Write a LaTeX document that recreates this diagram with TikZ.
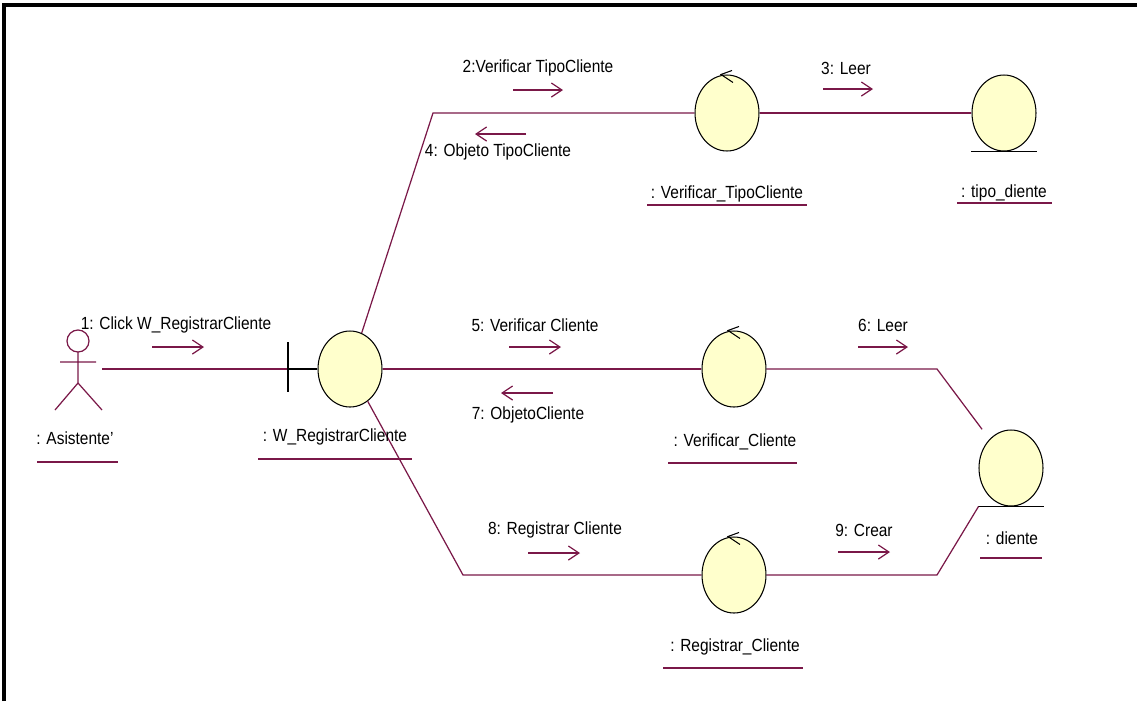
\documentclass[tikz,border=0pt]{standalone}
\usepackage{fontspec}
\setmainfont{Liberation Sans}[FakeStretch=0.88]
\usetikzlibrary{shapes.geometric,arrows.meta,calc}

\definecolor{lnk}{RGB}{122,24,72}
\definecolor{objfill}{RGB}{255,255,204}

\tikzset{
  obj/.style={ellipse,draw=black,fill=objfill,line width=0.6pt,minimum width=1.28cm,minimum height=1.52cm,inner sep=0pt},
  lbl/.style={font=\fontsize{10}{11}\selectfont,inner sep=1pt},
  link/.style={draw=lnk,line width=0.7pt},
  msg/.style={draw=lnk,line width=0.7pt,-{Straight Barb[length=6pt,width=8pt]}},
  uline/.style={draw=lnk,line width=0.8pt}
}
\newcommand{\ctrlmark}[1]{\draw[line width=0.6pt] ($(#1.north)+(6,8)$) -- ($(#1.north)+(-6,0)$) -- ($(#1.north)+(5,-4)$);}
\newcommand{\entbase}[1]{\draw[line width=0.8pt] (#1.south -| #1.west) -- (#1.south -| #1.east);}

\begin{document}
\begin{tikzpicture}[x=0.02cm,y=-0.02cm]
    \useasboundingbox (0,0) rectangle (1137,701);
    \draw[line width=2.6pt] (4,701) -- (4,5) -- (1137,5);

    \coordinate (actR) at (102,369);
    \coordinate (bar) at (288,369);
    \coordinate (c1) at (433,113);
    \coordinate (c2) at (937,369);
    \coordinate (c4) at (463,575);
    \coordinate (c5) at (937,575);

    \draw[link] (78,341) circle (11);
    \draw[link] (78,352) -- (78,383) -- (55,410) (78,383) -- (102,410) (60,362) -- (96,362);

    \node[obj] (W) at (350,369) {};
    \node[obj] (VTC) at (727,113) {};
    \node[obj] (TC) at (1004,113) {};
    \node[obj] (VC) at (734,369) {};
    \node[obj] (CL) at (1011,468) {};
    \node[obj] (RC) at (734,575) {};
    \ctrlmark{VTC}
    \ctrlmark{VC}
    \ctrlmark{RC}
    \entbase{TC}
    \entbase{CL}

    \draw[link] (actR) -- (bar);
    \draw[line width=0.7pt] (bar) -- (W);
    \draw[line width=0.8pt] (288,342) -- (288,392);
    \draw[link] (W) -- (c1) -- (VTC);
    \draw[link] (VTC) -- (TC);
    \draw[link] (W) -- (VC);
    \draw[link,shorten >=7pt] (VC) -- (c2) -- (CL);
    \draw[link] (W) -- (c4) -- (RC);
    \draw[link] (RC) -- (c5) -- (CL.south -| CL.west);

    \node[lbl] (lA) at (75,438) {: Asistente'};
    \node[lbl] (lW) at (335,437) {: W\_RegistrarCliente};
    \node[lbl] (lVTC) at (727,194) {: Verificar\_TipoCliente};
    \node[lbl] (lTC) at (1004,193) {: tipo\_diente};
    \node[lbl] (lVC) at (735,442) {: Verificar\_Cliente};
    \node[lbl] (lCL) at (1012,538) {: diente};
    \node[lbl] (lRC) at (735,647) {: Registrar\_Cliente};
    \draw[uline] (37,462) -- (118,462);
    \draw[uline] (258,459) -- (412,459);
    \draw[uline] (647,205) -- (807,205);
    \draw[uline] (957,203) -- (1052,203);
    \draw[uline] (668,463) -- (797,463);
    \draw[uline] (980,558) -- (1042,558);
    \draw[uline] (663,668) -- (803,668);

    \node[lbl] (m1) at (176,325) {1: Click W\_RegistrarCliente};
    \node[lbl] (m2) at (538,68) {2:Verificar TipoCliente};
    \node[lbl] (m3) at (846,68) {3: Leer};
    \node[lbl] (m4) at (498,152) {4: Objeto TipoCliente};
    \node[lbl] (m5) at (535,325) {5: Verificar Cliente};
    \node[lbl] (m6) at (883,325) {6: Leer};
    \node[lbl] (m7) at (528,415) {7: ObjetoCliente};
    \node[lbl] (m8) at (555,530) {8: Registrar Cliente};
    \node[lbl] (m9) at (864,530) {9: Crear};
    \draw[msg] ($(m1)+(-24,22)$) -- ++(52,0);
    \draw[msg] ($(m2)+(-25,22)$) -- ++(50,0);
    \draw[msg] ($(m3)+(-23,21)$) -- ++(50,0);
    \draw[msg] ($(m4)+(28,-18)$) -- ++(-51,0);
    \draw[msg] ($(m5)+(-26,22)$) -- ++(52,0);
    \draw[msg] ($(m6)+(-25,22)$) -- ++(50,0);
    \draw[msg] ($(m7)+(25,-22)$) -- ++(-52,0);
    \draw[msg] ($(m8)+(-27,23)$) -- ++(52,0);
    \draw[msg] ($(m9)+(-26,22)$) -- ++(52,0);
\end{tikzpicture}
\end{document}
